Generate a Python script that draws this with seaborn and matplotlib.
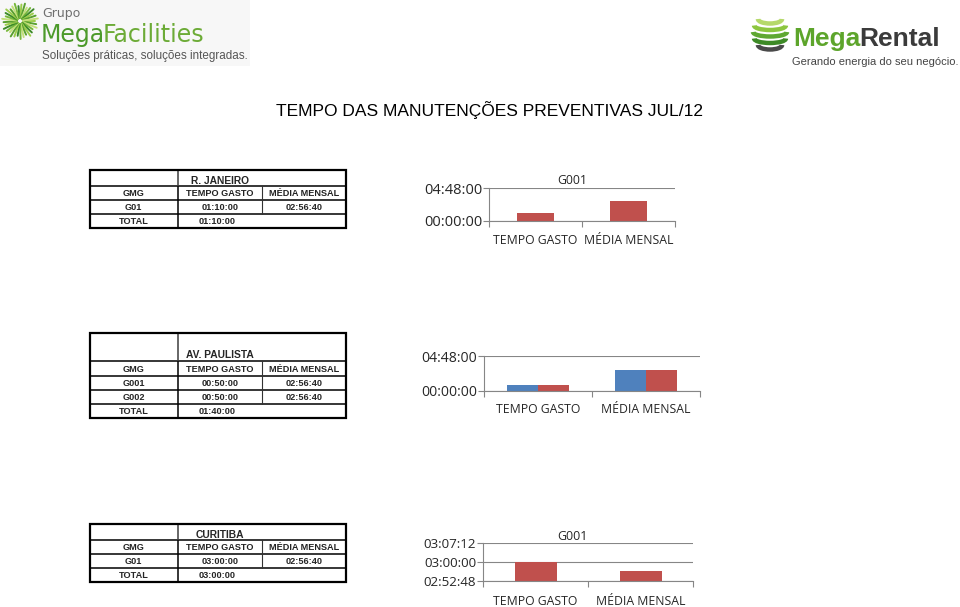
import matplotlib
matplotlib.use("Agg")
import matplotlib.pyplot as plt
import matplotlib.patches as mpatches
from matplotlib.ticker import FixedLocator
import seaborn as sns
import pandas as pd
import numpy as np

# ---------------- data ----------------
page_title = "TEMPO DAS MANUTENÇÕES PREVENTIVAS JUL/12"
categories = ["TEMPO GASTO", "MÉDIA MENSAL"]
col_headers = ["GMG", "TEMPO GASTO", "MÉDIA MENSAL"]

rj_name = "R. JANEIRO"
rj_gmg = ["G01"]
rj_tempo = ["01:10:00"]
rj_media = ["02:56:40"]
rj_total = "01:10:00"
rj_chart_title = "G001"
rj_yticks = ["00:00:00", "04:48:00"]

ap_name = "AV. PAULISTA"
ap_gmg = ["G001", "G002"]
ap_tempo = ["00:50:00", "00:50:00"]
ap_media = ["02:56:40", "02:56:40"]
ap_total = "01:40:00"
ap_yticks = ["00:00:00", "04:48:00"]

cu_name = "CURITIBA"
cu_gmg = ["G01"]
cu_tempo = ["03:00:00"]
cu_media = ["02:56:40"]
cu_total = "03:00:00"
cu_chart_title = "G001"
cu_yticks = ["02:52:48", "03:00:00", "03:07:12"]

# ---------------- setup ----------------
sns.set_style("white")
plt.rcParams["font.family"] = ["Liberation Sans", "DejaVu Sans"]

W, H = 960, 607
fig = plt.figure(figsize=(W / 100, H / 100), dpi=100)
fig.patch.set_facecolor("white")

BLUE = "#4F81BD"
RED = "#C0504D"
GRID = "#868686"
CHART_FONT = "Open Sans"


def to_sec(s):
    h, m, sec = (int(v) for v in s.split(":"))
    return h * 3600 + m * 60 + sec


def px_axes(x0, y0, x1, y1, z=1):
    return fig.add_axes([x0 / W, 1 - y1 / H, (x1 - x0) / W, (y1 - y0) / H], zorder=z)


# overlay for tables, logos and titles (pixel coordinates)
ov = px_axes(0, 0, W, H, z=0)
ov.set_xlim(0, W)
ov.set_ylim(H, 0)
ov.axis("off")

# ---------------- logos ----------------
ov.add_patch(mpatches.Rectangle((0, 0), 250, 66, color="#f7f7f7", lw=0, zorder=0))
ray_cols = ["#9ccc4a", "#5aa02f", "#c4df7a", "#78b83c", "#3c8a27"]
for i, ang in enumerate(np.arange(0, 360, 11)):
    a = np.deg2rad(ang)
    r0, r1 = 3, 15 + (i % 3) * 1.5
    cx, cy = 20, 21
    ov.plot([cx + r0 * np.cos(a), cx + r1 * np.cos(a)],
            [cy + r0 * np.sin(a), cy + r1 * np.sin(a)],
            color=ray_cols[i % len(ray_cols)], lw=1.4, solid_capstyle="round")
ov.text(42, 13, "Grupo", fontsize=9, color="#707070", family="DejaVu Sans",
        va="center", ha="left")
t1 = ov.text(41, 35, "Mega", fontsize=17, color="#4c9a2a", family="DejaVu Sans",
             va="center", ha="left")
ov.annotate("Facilities", xy=(1, 0.5), xycoords=t1, xytext=(-2, 0),
            textcoords="offset points", fontsize=17, color="#6cab36",
            family="DejaVu Sans", va="center", ha="left")
ov.text(42, 56, "Soluções práticas, soluções integradas.", fontsize=8.4,
        color="#555555", va="center", ha="left")

# right logo
sw_cols = ["#b5d96a", "#8cc63f", "#5fa832", "#3d8a26", "#4a4a4a"]
for i, c in enumerate(sw_cols):
    yy = 22 + i * 6.5
    half = 16 * np.sqrt(max(0.0, 1 - ((yy - 35) / 18) ** 2))
    ov.add_patch(mpatches.Arc((770, yy - 3), 2 * half + 2, 9, theta1=0, theta2=180,
                              color=c, lw=3.2))
t2 = ov.text(793, 39, "Mega", fontsize=19, color="#5da52b", fontweight="bold",
             va="center", ha="left")
ov.annotate("Rental", xy=(1, 0.5), xycoords=t2, xytext=(-1, 0),
            textcoords="offset points", fontsize=19, color="#3b3b3b",
            fontweight="bold", va="center", ha="left")
ov.text(792, 62, "Gerando energia do seu negócio.", fontsize=8.0, color="#444444",
        va="center", ha="left")

# page title
ov.text(490, 110, page_title, fontsize=12.5, ha="center", va="center", color="black")


# ---------------- tables ----------------
def draw_table(ys, name, gmgs, tempos, medias, total):
    x0, xa, xb, x1 = 89.5, 178, 262, 346
    top, bot = ys[0], ys[-1]
    for y in ys[1:-1]:
        ov.plot([x0, x1], [y, y], color="black", lw=1.1)
    ov.add_patch(mpatches.Rectangle((x0, top), x1 - x0, bot - top, fill=False,
                                    edgecolor="black", lw=1.6, zorder=3))
    ov.plot([xa, xa], [top, ys[1]], color="#666666", lw=1.4)
    ov.plot([xa, xa], [ys[1], bot], color="black", lw=1.1)
    ov.plot([xb, xb], [ys[1], ys[-2]], color="#333333", lw=0.8)
    cx = [(x0 + xa) / 2, (xa + xb) / 2, (xb + x1) / 2]
    fs = 6.6
    ov.text(cx[1], ys[1] - 5.5, name, fontsize=7.4, fontweight="bold",
            ha="center", va="center")
    ymid = (ys[1] + ys[2]) / 2 + 0.5
    for c, h in zip(cx, col_headers):
        ov.text(c, ymid, h, fontsize=fs, fontweight="bold", color="#222222",
                ha="center", va="center")
    for i, (g, t, m) in enumerate(zip(gmgs, tempos, medias)):
        ymid = (ys[2 + i] + ys[3 + i]) / 2 + 0.5
        ov.text(cx[0], ymid, g, fontsize=fs, fontweight="bold", ha="center", va="center")
        ov.text(cx[1], ymid, t, fontsize=fs, fontweight="bold", ha="center", va="center")
        ov.text(cx[2], ymid, m, fontsize=fs, fontweight="bold", ha="center", va="center")
    ymid = (ys[-2] + ys[-1]) / 2 + 0.5
    ov.text(cx[0], ymid, "TOTAL", fontsize=fs, fontweight="bold", ha="center", va="center")
    ov.text(cx[1] - 3, ymid, total, fontsize=fs, fontweight="bold", ha="center", va="center")


draw_table([170, 186, 200, 214, 228], rj_name, rj_gmg, rj_tempo, rj_media, rj_total)
draw_table([333, 361, 376, 390, 404, 418], ap_name, ap_gmg, ap_tempo, ap_media, ap_total)
draw_table([524, 540, 554, 568, 582], cu_name, cu_gmg, cu_tempo, cu_media, cu_total)


# ---------------- charts ----------------
def style_chart(ax, yticks, ytick_fs, xpad):
    tv = [to_sec(t) for t in yticks]
    ax.set_ylim(tv[0], tv[-1])
    ax.yaxis.set_major_locator(FixedLocator(tv))
    ax.set_yticklabels(yticks, fontsize=ytick_fs, family=CHART_FONT)
    ax.set_xlim(-0.5, 1.5)
    ax.set_xticks([0, 1])
    ax.set_xticklabels(categories, fontsize=8.8, family=CHART_FONT)
    ax.set_xticks([-0.5, 0.5, 1.5], minor=True)
    ax.tick_params(axis="x", which="major", length=0, pad=xpad)
    ax.tick_params(axis="x", which="minor", length=4, color=GRID, width=0.8,
                   direction="out", bottom=True)
    ax.tick_params(axis="y", length=4, color=GRID, width=0.8, pad=1,
                   direction="out", left=True)
    ax.grid(axis="y", color=GRID, lw=0.8)
    ax.grid(axis="x", visible=False)
    ax.set_axisbelow(True)
    for s in ["top", "right"]:
        ax.spines[s].set_visible(False)
    for s in ["left", "bottom"]:
        ax.spines[s].set_color(GRID)
        ax.spines[s].set_linewidth(0.8)
    ax.set_xlabel("")
    ax.set_ylabel("")
    ax.patch.set_alpha(0)


# chart 1: R. JANEIRO
df1 = pd.DataFrame({"cat": categories,
                    "sec": [to_sec(rj_tempo[0]), to_sec(rj_media[0])]})
ax1 = px_axes(489, 188, 675, 221)
sns.barplot(data=df1, x="cat", y="sec", color=RED, saturation=1, width=0.39,
            errorbar=None, linewidth=0, ax=ax1)
style_chart(ax1, rj_yticks, 10.5, 9.5)
ov.text(572, 180, rj_chart_title, fontsize=8.8, family=CHART_FONT, ha="center", va="center")

# chart 2: AV. PAULISTA
rows = []
for g, t, m in zip(ap_gmg, ap_tempo, ap_media):
    rows.append({"cat": categories[0], "gmg": g, "sec": to_sec(t)})
    rows.append({"cat": categories[1], "gmg": g, "sec": to_sec(m)})
df2 = pd.DataFrame(rows)
ax2 = px_axes(484, 356, 700, 391)
sns.barplot(data=df2, x="cat", y="sec", hue="gmg", palette=[BLUE, RED],
            saturation=1, width=0.575, errorbar=None, legend=False, linewidth=0, ax=ax2)
style_chart(ax2, ap_yticks, 10.1, 8.5)

# chart 3: CURITIBA
df3 = pd.DataFrame({"cat": categories,
                    "sec": [to_sec(cu_tempo[0]), to_sec(cu_media[0])]})
ax3 = px_axes(483, 543, 693, 581)
sns.barplot(data=df3, x="cat", y="sec", color=RED, saturation=1, width=0.4,
            errorbar=None, linewidth=0, ax=ax3)
style_chart(ax3, cu_yticks, 9.6, 10)
ov.text(572, 537, cu_chart_title, fontsize=9, family=CHART_FONT, ha="center", va="center")

fig.savefig("out.png", dpi=100)
